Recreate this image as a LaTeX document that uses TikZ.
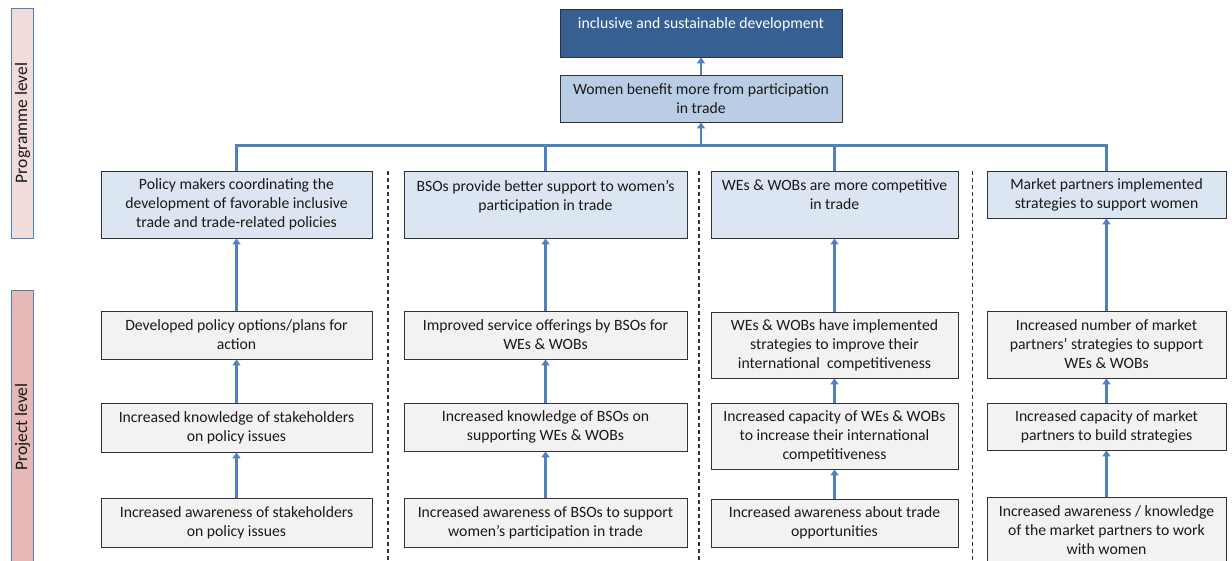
\documentclass[tikz,border=0pt]{standalone}
\usepackage{fontspec}
\setmainfont{Carlito}
\usetikzlibrary{shapes,arrows.meta}
\usetikzlibrary{calc}

\definecolor{goalblue}{HTML}{376092}
\definecolor{benefitblue}{HTML}{B9CDE5}
\definecolor{outcomeblue}{HTML}{DCE6F2}
\definecolor{outputgray}{HTML}{F2F2F2}
\definecolor{linkblue}{HTML}{4F81BD}
\definecolor{progpink}{HTML}{F2DCDB}
\definecolor{projpink}{HTML}{E6B9B8}

\begin{document}
\begin{tikzpicture}[x=1pt,y=-1pt,
		box/.style={draw=black!80,line width=0.9pt,align=center,inner sep=0pt,
			text=black!90,font=\fontsize{15.7}{19}\selectfont},
		outcome/.style={box,fill=outcomeblue},
		output/.style={box,fill=outputgray},
		level/.style={draw=linkblue,line width=1pt,rotate=90,minimum height=21pt,
			text=black!90,font=\fontsize{17.5}{19}\selectfont},
		link/.style={draw=linkblue,line width=2.5pt},
		uparrow/.style={link,-{Triangle[width=8pt,length=6pt]}},
		sep/.style={draw=black!80,line width=1.1pt,dash pattern=on 4pt off 3pt}]
			\useasboundingbox (0,0) rectangle (1232,560);
			% levels
			\node [level,fill=progpink,minimum width=230pt] (Prog) at (22.5,123) {Programme level};
			\node [level,fill=projpink,minimum width=274pt] (Proj) at (22.5,427) {Project level};
			% programme level
			\node [box,fill=goalblue,text=white,minimum width=282pt,minimum height=48pt] (goal) at (701,33)
				{inclusive and sustainable development\\ ~};
			\node [box,fill=benefitblue,minimum width=282pt,minimum height=47pt] (women) at (701,98.5)
				{Women benefit more from participation\\in trade};
			\node [outcome,minimum width=271pt,minimum height=67pt] (pm0) at (236.5,204.5)
				{Policy makers coordinating the\\development of favorable inclusive\\trade and trade-related policies};
			\node [outcome,minimum width=283pt,minimum height=67pt] (bso0) at (545.5,204.5)
				{BSOs provide better support to women’s\\participation in trade\\ ~};
			\node [outcome,minimum width=247pt,minimum height=67pt] (wes0) at (834.5,204.5)
				{WEs \& WOBs are more competitive\\in trade\\ ~};
			\node [outcome,minimum width=239pt,minimum height=47pt] (mp0) at (1106.5,194.5)
				{Market partners implemented\\strategies to support women};
			% project level
			\node [output,minimum width=271pt,minimum height=48pt] (pm1) at (236.5,335)
				{Developed policy options/plans for\\action};
			\node [output,minimum width=283pt,minimum height=48pt] (bso1) at (545.5,335)
				{Improved service offerings by BSOs for\\WEs \& WOBs};
			\node [output,minimum width=247pt,minimum height=66pt] (wes1) at (834.5,345)
				{WEs \& WOBs have implemented\\strategies to improve their\\international\ \ competitiveness};
			\node [output,minimum width=239pt,minimum height=67pt] (mp1) at (1106.5,344.5)
				{Increased number of market\\partners’ strategies to support\\WEs \& WOBs};
			\node [output,minimum width=271pt,minimum height=49pt] (pm2) at (236.5,427.5)
				{Increased knowledge of stakeholders\\on policy issues};
			\node [output,minimum width=283pt,minimum height=48pt] (bso2) at (545.5,427)
				{Increased knowledge of BSOs on\\supporting WEs \& WOBs};
			\node [output,minimum width=247pt,minimum height=66pt] (wes2) at (834.5,436)
				{Increased capacity of WEs \& WOBs\\to increase their international\\competitiveness};
			\node [output,minimum width=239pt,minimum height=47pt] (mp2) at (1106.5,426.5)
				{Increased capacity of market\\partners to build strategies};
			\node [output,minimum width=271pt,minimum height=49pt] (pm3) at (236.5,522.5)
				{Increased awareness of stakeholders\\on policy issues};
			\node [output,minimum width=283pt,minimum height=49pt] (bso3) at (545.5,522.5)
				{Increased awareness of BSOs to support\\women’s participation in trade};
			\node [output,minimum width=247pt,minimum height=48pt] (wes3) at (834.5,523)
				{Increased awareness about trade\\opportunities};
			\node [output,minimum width=239pt,minimum height=66pt] (mp3) at (1106.5,530)
				{Increased awareness / knowledge\\of the market partners to work\\with women};
			% connectors
			\coordinate (hub) at ($(women.south)+(0,23)$);
			\draw[link] (pm0.north) |- (hub);
			\draw[link] (mp0.north) |- (hub);
			\draw[link] (bso0.north) -- (bso0.north |- hub);
			\draw[link] (wes0.north) -- (wes0.north |- hub);
			\draw[uparrow] (hub) -- (women);
			\draw[uparrow] (women) -- (goal);
			\foreach \c in {pm,bso,wes,mp} {
				\draw[uparrow] (\c3) -- (\c2);
				\draw[uparrow] (\c2) -- (\c1);
				\draw[uparrow] (\c1) -- (\c0);
			}
			% column separators
			\draw[sep] ($(pm0.north east)!0.5!(bso0.north west)$) -- ++(0,389);
			\draw[sep] ($(bso0.north east)!0.5!(wes0.north west)$) -- ++(0,389);
			\draw[sep] ($(wes0.north east)!0.5!(mp0.north west)$) -- ++(0,389);
		\end{tikzpicture}
\end{document}
